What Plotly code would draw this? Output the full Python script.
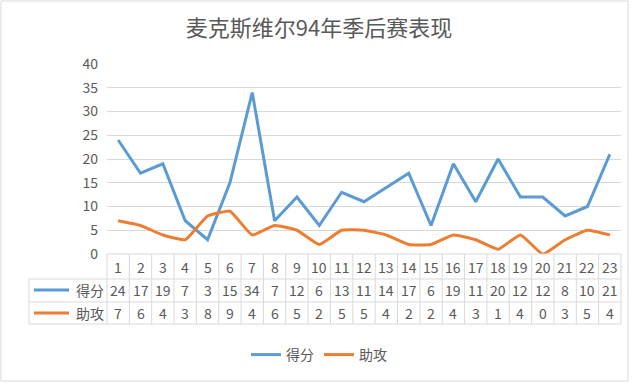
import plotly.graph_objects as go

games = list(range(1, 24))
points = [24, 17, 19, 7, 3, 15, 34, 7, 12, 6, 13, 11, 14, 17, 6, 19, 11, 20, 12, 12, 8, 10, 21]
assists = [7, 6, 4, 3, 8, 9, 4, 6, 5, 2, 5, 5, 4, 2, 2, 4, 3, 1, 4, 0, 3, 5, 4]
series_names = ["得分", "助攻"]
colors = ["#5B9BD5", "#ED7D31"]
title = "麦克斯维尔94年季后赛表现"

W, H = 640, 383
L, R, T, B = 107, 621, 64, 254
pw, ph = R - L, B - T
FONT = "Noto Sans CJK SC"
TXT = "#595959"
GRID = "#D9D9D9"

def py(y):  # pixel y -> paper y
    return (B - y) / ph

def px(x):
    return (x - L) / pw

fig = go.Figure()
fig.add_trace(go.Scatter(x=games, y=points, name=series_names[0], mode="lines",
                         line=dict(color=colors[0], width=3)))
fig.add_trace(go.Scatter(x=games, y=assists, name=series_names[1], mode="lines",
                         line=dict(color=colors[1], width=3, shape="spline", smoothing=0.4)))

shapes = []
ann = []
# table horizontal lines
for yy, x0 in [(B, L), (279, 29), (302, 29), (324, 29)]:
    shapes.append(dict(type="line", xref="paper", yref="paper", x0=px(x0), x1=1,
                       y0=py(yy), y1=py(yy), line=dict(color=GRID, width=1)))
# vertical lines
n = len(games)
for i in range(n + 1):
    xx = L + pw * i / n
    shapes.append(dict(type="line", xref="paper", yref="paper", x0=px(xx), x1=px(xx),
                       y0=py(B), y1=py(324), line=dict(color=GRID, width=1)))
shapes.append(dict(type="line", xref="paper", yref="paper", x0=px(29), x1=px(29),
                   y0=py(279), y1=py(324), line=dict(color=GRID, width=1)))
# outer border
shapes.append(dict(type="rect", xref="paper", yref="paper", x0=px(1), x1=px(628),
                   y0=py(1), y1=py(381), line=dict(color="#D9D9D9", width=1)))

rows = [(267, [str(g) for g in games]), (290, [str(v) for v in points]), (313, [str(v) for v in assists])]
for yy, labels in rows:
    for g, lab in zip(games, labels):
        ann.append(dict(x=g, xref="x", y=py(yy), yref="paper", text=lab, showarrow=False,
                        font=dict(family=FONT, size=14, color=TXT), xanchor="center", yanchor="middle"))
# row legend keys
for yy, name, c in [(290, series_names[0], colors[0]), (313, series_names[1], colors[1])]:
    shapes.append(dict(type="line", xref="paper", yref="paper", x0=px(34), x1=px(69),
                       y0=py(yy), y1=py(yy), line=dict(color=c, width=3)))
    ann.append(dict(x=px(74), xref="paper", y=py(yy), yref="paper", text=name, showarrow=False,
                    font=dict(family=FONT, size=14, color=TXT), xanchor="left", yanchor="middle"))

fig.update_layout(
    width=W, height=H,
    margin=dict(l=L, r=W - R, t=T, b=H - B, pad=0),
    paper_bgcolor="white", plot_bgcolor="white",
    title=dict(text=title, x=319 / W, xanchor="center", y=1 - 28 / H, yanchor="middle",
               font=dict(family=FONT, size=22, color=TXT)),
    xaxis=dict(range=[0.5, 23.5], showticklabels=False, showgrid=False, zeroline=False,
               showline=False, ticks=""),
    yaxis=dict(range=[0, 40], dtick=5, showgrid=True, gridcolor=GRID, gridwidth=1,
               zeroline=False, showline=False, ticks="", ticklen=0,
               tickfont=dict(family=FONT, size=14, color=TXT), ticklabelstandoff=8),
    legend=dict(orientation="h", x=px(319), xanchor="center", y=py(355), yanchor="middle",
                font=dict(family=FONT, size=14, color=TXT), itemwidth=30,
                bgcolor="rgba(0,0,0,0)"),
    shapes=shapes, annotations=ann,
)
fig.write_html("out.html")
